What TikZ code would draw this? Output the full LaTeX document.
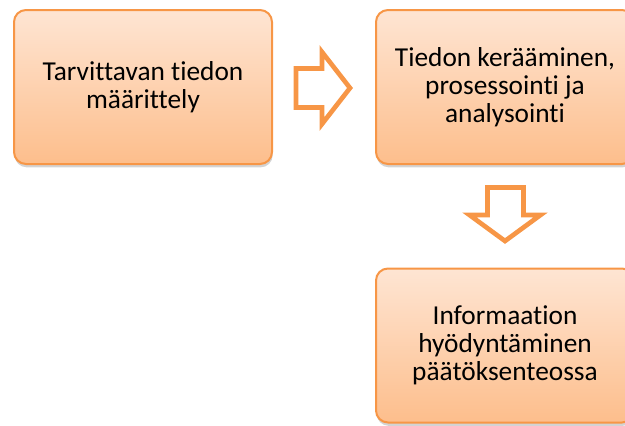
\documentclass[tikz,border=0pt]{standalone}
\usepackage{fontspec}
\setmainfont{Carlito}[Ligatures=NoCommon]
\usetikzlibrary{shadows}
\definecolor{boxorange}{HTML}{F79646}
\definecolor{boxtop}{HTML}{FEE5D3}
\definecolor{boxbottom}{HTML}{FDBE8C}
\begin{document}
\begin{tikzpicture}[x=0.75pt,y=-0.75pt,font=\fontsize{20.5}{21}\selectfont,
    box/.style={draw=boxorange,line width=1.5pt,rounded corners=9pt,
      top color=boxtop,bottom color=boxbottom,align=center,
      minimum width=193.5pt,minimum height=115.5pt,
      drop shadow={shadow xshift=0.5pt,shadow yshift=-2.5pt,opacity=0.35}},
    blockarrow/.style={draw=boxorange,line width=3.5pt,fill=white,line join=miter,
      drop shadow={shadow xshift=0.5pt,shadow yshift=-1.5pt,opacity=0.2}}]
    \path[use as bounding box,clip] (0,0) rectangle (625,425);
    \node[box] (define) at (143,87) {Tarvittavan tiedon\\määrittely};
    \node[box] (collect) at (505,87) {Tiedon kerääminen,\\prosessointi ja\\analysointi};
    \node[box] (use) at (505,345.5) {Informaation\\hyödyntäminen\\päätöksenteossa};
    % block arrows
    \draw[blockarrow] (296,68.5) -- (322,68.5) -- (322,52) -- (350,88)
      -- (322,124) -- (322,107.5) -- (296,107.5) -- cycle;
    \draw[blockarrow] (487.5,187.5) -- (523.5,187.5) -- (523.5,215) -- (540.5,215)
      -- (505,241) -- (469.5,215) -- (487.5,215) -- cycle;
\end{tikzpicture}
\end{document}
